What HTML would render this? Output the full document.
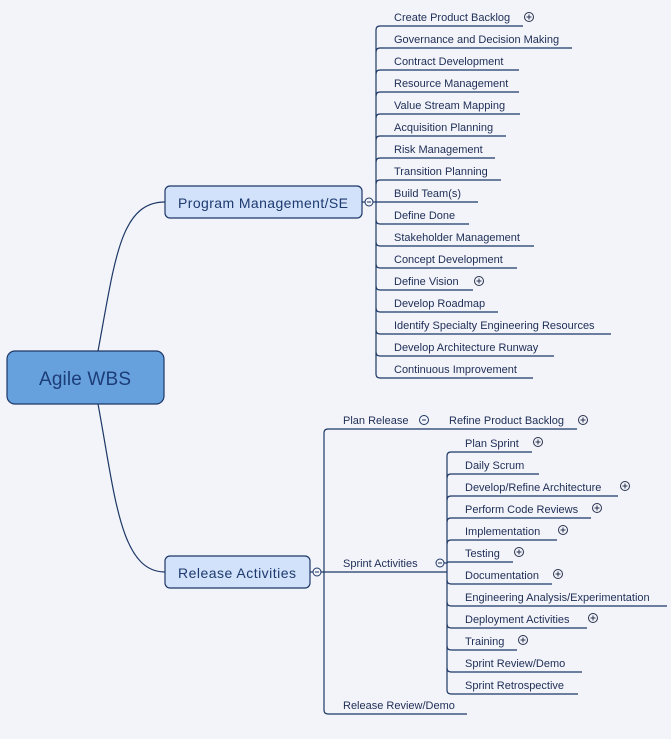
<!DOCTYPE html>
<html><head><meta charset="utf-8"><style>
html,body{margin:0;padding:0;background:#f2f4fa;}
svg{display:block;}
text{font-family:"Liberation Sans",Arial,sans-serif;}
.t{font-size:11px;fill:#1e2d55;}
.l{fill:none;stroke:#1d3766;stroke-width:1.2;}
.c{fill:#f2f4fa;stroke:#1d3766;stroke-width:1;}
.p{fill:none;stroke:#2a3350;stroke-width:1;}
</style></head><body>
<svg width="671" height="739" viewBox="0 0 671 739" xmlns="http://www.w3.org/2000/svg">
<rect width="671" height="739" fill="#f2f4fa"/>
<!-- main curves -->
<path class="l" d="M98,351 C115,260 120,202 165,202"/>
<path class="l" d="M98,404 C115,495 120,572 165,572"/>
<!-- main node -->
<rect x="7" y="351" width="157" height="53" rx="8" fill="#66a1de" stroke="#1d3766" stroke-width="1.2"/>
<text x="39" y="385" font-size="19" fill="#1c3d78" textLength="92" lengthAdjust="spacing">Agile WBS</text>
<!-- Program node -->
<rect x="165" y="186" width="197" height="32" rx="5" fill="#d3e2fb" stroke="#1d3766" stroke-width="1.2"/>
<text x="178" y="208" font-size="14" fill="#1c3a6e" textLength="170" lengthAdjust="spacing">Program Management/SE</text>
<line class="l" x1="362" y1="202" x2="365" y2="202"/>
<line class="l" x1="373" y1="202" x2="376" y2="202"/>
<circle class="c" cx="369" cy="202" r="4"/>
<line x1="367" y1="202" x2="371" y2="202" stroke="#1d3766" stroke-width="1"/>
<!-- Program children -->
<g class="l">
<path d="M376,202 V30 Q376,26 380,26 H523"/>
<path d="M376,52 Q376,48 380,48 H572"/>
<path d="M376,74 Q376,70 380,70 H519"/>
<path d="M376,96 Q376,92 380,92 H519"/>
<path d="M376,118 Q376,114 380,114 H520"/>
<path d="M376,140 Q376,136 380,136 H506"/>
<path d="M376,162 Q376,158 380,158 H495"/>
<path d="M376,184 Q376,180 380,180 H501"/>
<path d="M376,202 H478"/>
<path d="M376,202 V374 Q376,378 380,378 H533"/>
<path d="M376,220 Q376,224 380,224 H469"/>
<path d="M376,242 Q376,246 380,246 H534"/>
<path d="M376,264 Q376,268 380,268 H517"/>
<path d="M376,286 Q376,290 380,290 H473"/>
<path d="M376,308 Q376,312 380,312 H498"/>
<path d="M376,330 Q376,334 380,334 H611"/>
<path d="M376,352 Q376,356 380,356 H554"/>
</g>
<g class="t">
<text x="394" y="21">Create Product Backlog</text>
<text x="394" y="43">Governance and Decision Making</text>
<text x="394" y="65">Contract Development</text>
<text x="394" y="87">Resource Management</text>
<text x="394" y="109">Value Stream Mapping</text>
<text x="394" y="131">Acquisition Planning</text>
<text x="394" y="153">Risk Management</text>
<text x="394" y="175">Transition Planning</text>
<text x="394" y="197">Build Team(s)</text>
<text x="394" y="219">Define Done</text>
<text x="394" y="241">Stakeholder Management</text>
<text x="394" y="263">Concept Development</text>
<text x="394" y="285">Define Vision</text>
<text x="394" y="307">Develop Roadmap</text>
<text x="394" y="329">Identify Specialty Engineering Resources</text>
<text x="394" y="351">Develop Architecture Runway</text>
<text x="394" y="373">Continuous Improvement</text>
</g>
<!-- Release node -->
<rect x="165" y="556" width="145" height="32" rx="5" fill="#d3e2fb" stroke="#1d3766" stroke-width="1.2"/>
<text x="178" y="578" font-size="14" fill="#1c3a6e" textLength="118" lengthAdjust="spacing">Release Activities</text>
<line class="l" x1="310" y1="572" x2="313" y2="572"/>
<circle class="c" cx="317" cy="572" r="4"/>
<line x1="315" y1="572" x2="319" y2="572" stroke="#1d3766" stroke-width="1"/>
<g class="l">
<path d="M321,572 H447"/>
<path d="M324,572 V433 Q324,429 328,429 H577"/>
<path d="M324,572 V710 Q324,714 328,714 H467"/>
<path d="M444,563 H447"/>
</g>
<circle class="c" cx="440" cy="563" r="4"/>
<line x1="438" y1="563" x2="442" y2="563" stroke="#1d3766" stroke-width="1"/>
<circle class="c" cx="424" cy="420" r="4.5"/>
<line x1="422" y1="420" x2="426" y2="420" stroke="#1d3766" stroke-width="1"/>
<g class="t">
<text x="343" y="424">Plan Release</text>
<text x="449" y="424">Refine Product Backlog</text>
<text x="343" y="567">Sprint Activities</text>
<text x="343" y="709">Release Review/Demo</text>
</g>
<!-- Sprint children -->
<g class="l">
<path d="M447,563 V456 Q447,452 451,452 H532"/>
<path d="M447,478 Q447,474 451,474 H539"/>
<path d="M447,500 Q447,496 451,496 H618"/>
<path d="M447,522 Q447,518 451,518 H591"/>
<path d="M447,544 Q447,540 451,540 H557"/>
<path d="M447,563 Q447,562 449,562 H513"/>
<path d="M447,563 V690 Q447,694 451,694 H578"/>
<path d="M447,580 Q447,584 451,584 H552"/>
<path d="M447,602 Q447,606 451,606 H667"/>
<path d="M447,624 Q447,628 451,628 H587"/>
<path d="M447,646 Q447,650 451,650 H517"/>
<path d="M447,668 Q447,672 451,672 H582"/>
</g>
<g class="t">
<text x="465" y="447">Plan Sprint</text>
<text x="465" y="469">Daily Scrum</text>
<text x="465" y="491">Develop/Refine Architecture</text>
<text x="465" y="513">Perform Code Reviews</text>
<text x="465" y="535">Implementation</text>
<text x="465" y="557">Testing</text>
<text x="465" y="579">Documentation</text>
<text x="465" y="601">Engineering Analysis/Experimentation</text>
<text x="465" y="623">Deployment Activities</text>
<text x="465" y="645">Training</text>
<text x="465" y="667">Sprint Review/Demo</text>
<text x="465" y="689">Sprint Retrospective</text>
</g>
<!-- plus icons -->
<g class="p">
<circle cx="529" cy="17" r="4.5"/><path d="M526.5,17 H531.5 M529,14.5 V19.5"/>
<circle cx="479" cy="281" r="4.5"/><path d="M476.5,281 H481.5 M479,278.5 V283.5"/>
<circle cx="583" cy="420" r="4.5"/><path d="M580.5,420 H585.5 M583,417.5 V422.5"/>
<circle cx="538" cy="442" r="4.5"/><path d="M535.5,442 H540.5 M538,439.5 V444.5"/>
<circle cx="625" cy="486" r="4.5"/><path d="M622.5,486 H627.5 M625,483.5 V488.5"/>
<circle cx="597" cy="508" r="4.5"/><path d="M594.5,508 H599.5 M597,505.5 V510.5"/>
<circle cx="563" cy="530" r="4.5"/><path d="M560.5,530 H565.5 M563,527.5 V532.5"/>
<circle cx="519" cy="552" r="4.5"/><path d="M516.5,552 H521.5 M519,549.5 V554.5"/>
<circle cx="558" cy="574" r="4.5"/><path d="M555.5,574 H560.5 M558,571.5 V576.5"/>
<circle cx="593" cy="618" r="4.5"/><path d="M590.5,618 H595.5 M593,615.5 V620.5"/>
<circle cx="523" cy="640" r="4.5"/><path d="M520.5,640 H525.5 M523,637.5 V642.5"/>
</g>
</svg>
</body></html>
